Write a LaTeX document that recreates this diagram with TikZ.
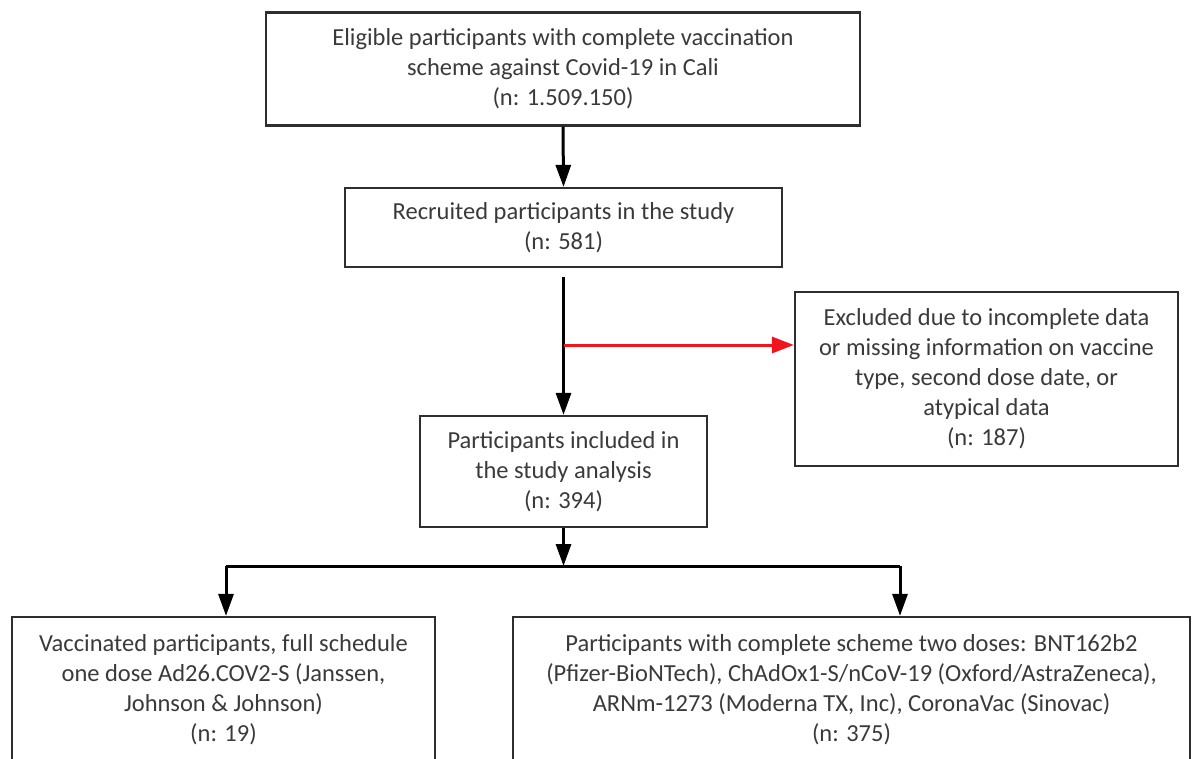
\documentclass[tikz,border=0pt]{standalone}
\usepackage{fontspec}
\setmainfont{Carlito}
\usetikzlibrary{arrows.meta,calc}
\definecolor{txt}{HTML}{3A3A3A}
\definecolor{bord}{HTML}{2E2E2E}
\definecolor{redline}{HTML}{F0141E}
\begin{document}
\begin{tikzpicture}[x=1pt,y=-1pt,
  box/.style={draw=bord,line width=2.2pt,inner sep=0pt,align=center,text=txt,
    font=\fontsize{24.5}{30}\selectfont},
  arr/.style={line width=3pt,draw=black,-{Triangle[length=22pt,width=15pt]}},
  redarr/.style={line width=3pt,draw=redline,-{Triangle[length=22pt,width=16pt]}}]
\useasboundingbox (0,0) rectangle (1198,759);
\clip (0,0) rectangle (1198,759);
\node[box,minimum width=594pt,minimum height=113pt] (b1) at (563,69)
  {Eligible participants with complete vaccination\\scheme against Covid-19 in Cali\\(n: 1.509.150)};
\node[box,minimum width=437pt,minimum height=79pt] (b2) at (563.5,227.5)
  {Recruited participants in the study\\(n: 581)};
\node[box,minimum width=287pt,minimum height=111pt] (b3) at (563.5,471.5)
  {Participants included in\\the study analysis\\(n: 394)};
\node[box,minimum width=383pt,minimum height=174pt] (ex) at (986.5,379)
  {Excluded due to incomplete data\\or missing information on vaccine\\type, second dose date, or\\atypical data\\(n: 187)};
\node[box,minimum width=423pt,minimum height=146pt] (b4) at (223.5,690)
  {Vaccinated participants, full schedule\\one dose Ad26.COV2-S (Janssen,\\Johnson \& Johnson)\\(n: 19)};
\node[box,minimum width=677pt,minimum height=146pt] (b5) at (851.5,690)
  {Participants with complete scheme two doses: BNT162b2\\(Pfizer-BioNTech), ChAdOx1-S/nCoV-19 (Oxford/AstraZeneca),\\ARNm-1273 (Moderna TX, Inc), CoronaVac (Sinovac)\\(n: 375)};
\coordinate (r) at (563.5,345);
\coordinate (j) at (563.5,566);
\coordinate (jl) at (226,566);
\coordinate (jr) at (900,566);
\draw[arr] (b1.south) -- (b2.north);
\draw[arr,shorten <=9pt] (b2.south) -- (b3.north);
\draw[redarr] (r) -- (r -| ex.west);
\draw[arr] (b3.south) -- (j);
\draw[line width=3pt,line join=round] (jl) -- (jr);
\draw[arr] (jl) -- (jl |- b4.north);
\draw[arr] (jr) -- (jr |- b5.north);
\end{tikzpicture}
\end{document}
